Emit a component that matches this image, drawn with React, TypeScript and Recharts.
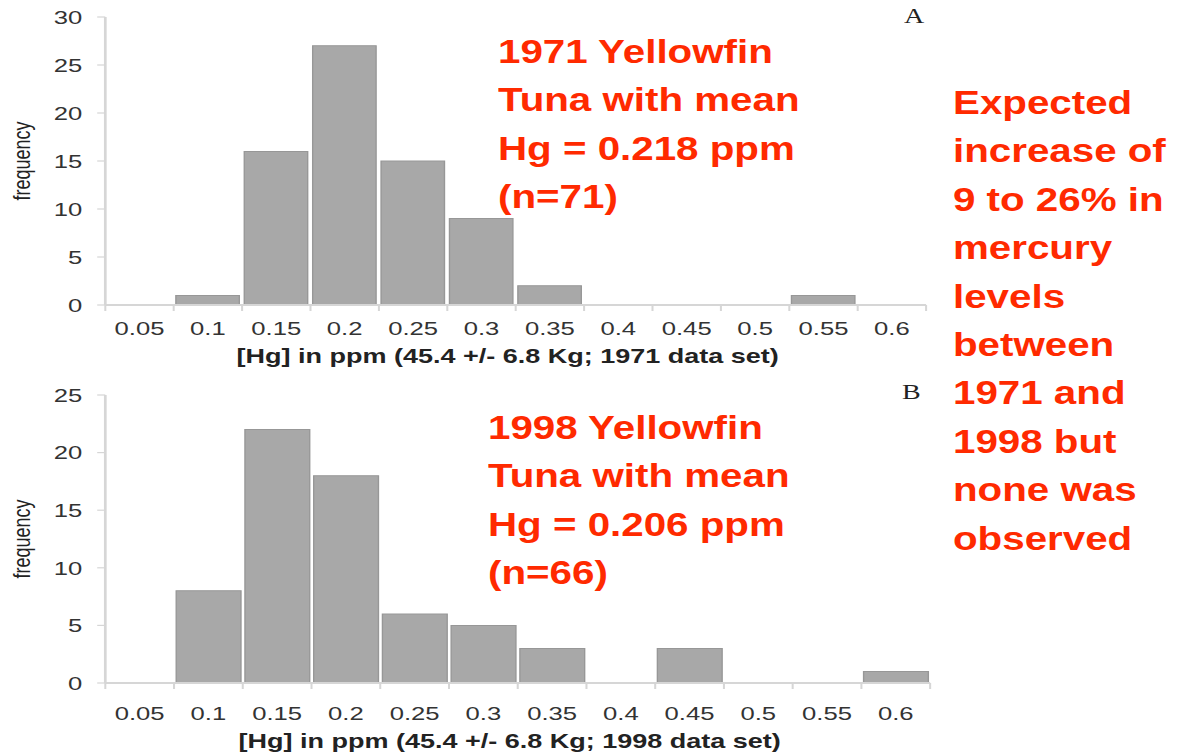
import { BarChart, Bar, XAxis, YAxis } from 'recharts';

// histogram bins (ppm) and counts
const BINS = ['0.05', '0.1', '0.15', '0.2', '0.25', '0.3', '0.35', '0.4', '0.45', '0.5', '0.55', '0.6'];
const FREQ_1971 = [0, 1, 16, 27, 15, 9, 2, 0, 0, 0, 1, 0];
const FREQ_1998 = [0, 8, 22, 18, 6, 5, 3, 0, 3, 0, 0, 1];
const Y_TICKS_1971 = [0, 5, 10, 15, 20, 25, 30];
const Y_TICKS_1998 = [0, 5, 10, 15, 20, 25];

const TEXT_1971 = ['1971 Yellowfin', 'Tuna with mean', 'Hg = 0.218 ppm', '(n=71)'];
const TEXT_1998 = ['1998 Yellowfin', 'Tuna with mean', 'Hg = 0.206 ppm', '(n=66)'];
const TEXT_NOTE = [
  'Expected',
  'increase of',
  '9 to 26% in',
  'mercury',
  'levels',
  'between',
  '1971 and',
  '1998 but',
  'none was',
  'observed',
];

// the source image is stretched sideways, so the charts are drawn narrow and widened
const STRETCH = 1.35;
const CHART_W = 700;
const CHART_H = 375;
const Y_AXIS_W = 78;
const FONT = '"Liberation Sans", Arial, sans-serif';
const AXIS_GRAY = '#d6d6d6';

interface HistProps {
  top: number;
  counts: number[];
  yTicks: number[];
  xTitle: string;
  rightMargin: number;
  tickDy: number;
  titleDy: number;
}

function Histogram({ top, counts, yTicks, xTitle, rightMargin, tickDy, titleDy }: HistProps) {
  const data = BINS.map((bin, i) => ({ bin, count: counts[i] }));
  const band = (CHART_W - rightMargin - Y_AXIS_W) / BINS.length;

  const renderTick = (props: any) => {
    const { x, y, payload, index } = props;
    const left = x - band / 2;
    return (
      <g>
        <line x1={left} x2={left} y1={y} y2={y + 6} stroke={AXIS_GRAY} strokeWidth={1.5} />
        {index === BINS.length - 1 && (
          <line x1={left + band} x2={left + band} y1={y} y2={y + 6} stroke={AXIS_GRAY} strokeWidth={1.5} />
        )}
        <text x={x} y={y + tickDy} dy="0.36em" textAnchor="middle" fill="#333" fontSize={19} fontFamily={FONT}>
          {payload.value}
        </text>
      </g>
    );
  };

  return (
    <div
      style={{
        position: 'absolute',
        left: 0,
        top,
        width: CHART_W,
        height: CHART_H,
        transform: `scaleX(${STRETCH})`,
        transformOrigin: '0 0',
      }}
    >
      <BarChart
        width={CHART_W}
        height={CHART_H}
        data={data}
        margin={{ top: 17, right: rightMargin, left: 0, bottom: 0 }}
        barCategoryGap={1.6}
      >
        <XAxis
          dataKey="bin"
          height={CHART_H - 17 - 288}
          interval={0}
          axisLine={{ stroke: AXIS_GRAY, strokeWidth: 2 }}
          tickLine={false}
          tickSize={0}
          tickMargin={0}
          tick={renderTick}
          label={{
            value: xTitle,
            content: (p: any) => {
              const vb = p.viewBox || { x: Y_AXIS_W, y: 305, width: band * BINS.length };
              return (
                <text
                  x={vb.x + vb.width / 2 - 6}
                  y={vb.y + titleDy}
                  dy="0.36em"
                  textAnchor="middle"
                  fill="#222"
                  fontSize={20}
                  fontWeight="bold"
                  fontFamily={FONT}
                >
                  {xTitle}
                </text>
              );
            },
          }}
        />
        <YAxis
          width={Y_AXIS_W}
          domain={[0, yTicks[yTicks.length - 1]]}
          ticks={yTicks}
          interval={0}
          axisLine={{ stroke: AXIS_GRAY, strokeWidth: 2 }}
          tickLine={{ stroke: AXIS_GRAY, strokeWidth: 1.2 }}
          tickSize={6}
          tickMargin={11}
          tick={{ fill: '#333', fontSize: 19, fontFamily: FONT }}
          label={{
            value: 'frequency',
            content: (p: any) => {
              const vb = p.viewBox || { y: 17, height: 288 };
              const cy = vb.y + vb.height / 2;
              return (
                <text
                  transform={`translate(16, ${cy}) rotate(-90)`}
                  textAnchor="middle"
                  dominantBaseline="central"
                  fill="#222"
                  fontSize={18}
                  fontFamily={FONT}
                >
                  frequency
                </text>
              );
            },
          }}
        />
        <Bar dataKey="count" fill="#a8a8a8" stroke="#979797" strokeWidth={1} isAnimationActive={false} />
      </BarChart>
    </div>
  );
}

function RedText({ lines, left, top }: { lines: string[]; left: number; top: number }) {
  return (
    <div
      style={{
        position: 'absolute',
        left,
        top,
        color: '#ff2a00',
        fontFamily: FONT,
        fontWeight: 'bold',
        fontSize: 32.5,
        lineHeight: '48.4px',
        whiteSpace: 'nowrap',
        transform: 'scaleX(1.24)',
        transformOrigin: '0 0',
      }}
    >
      {lines.map((l) => (
        <div key={l}>{l}</div>
      ))}
    </div>
  );
}

function PanelLetter({ text, left, top }: { text: string; left: number; top: number }) {
  return (
    <div
      style={{
        position: 'absolute',
        left,
        top,
        fontFamily: '"Liberation Serif", serif',
        fontSize: 20,
        lineHeight: 1,
        color: '#222',
        transform: 'scaleX(1.4)',
        transformOrigin: '0 0',
      }}
    >
      {text}
    </div>
  );
}

export default function App() {
  return (
    <div style={{ position: 'relative', width: 1178, height: 753, overflow: 'hidden', background: '#fff' }}>
      <style>{'body{margin:0}'}</style>
      <Histogram
        top={0}
        counts={FREQ_1971}
        yTicks={Y_TICKS_1971}
        xTitle="[Hg] in ppm (45.4 +/- 6.8 Kg; 1971 data set)"
        rightMargin={14}
        tickDy={23}
        titleDy={51}
      />
      <Histogram
        top={378}
        counts={FREQ_1998}
        yTicks={Y_TICKS_1998}
        xTitle="[Hg] in ppm (45.4 +/- 6.8 Kg; 1998 data set)"
        rightMargin={11}
        tickDy={30}
        titleDy={58}
      />
      <PanelLetter text="A" left={904} top={6} />
      <PanelLetter text="B" left={902} top={382} />
      <RedText lines={TEXT_1971} left={498} top={28} />
      <RedText lines={TEXT_1998} left={488} top={404} />
      <RedText lines={TEXT_NOTE} left={953} top={79} />
    </div>
  );
}
